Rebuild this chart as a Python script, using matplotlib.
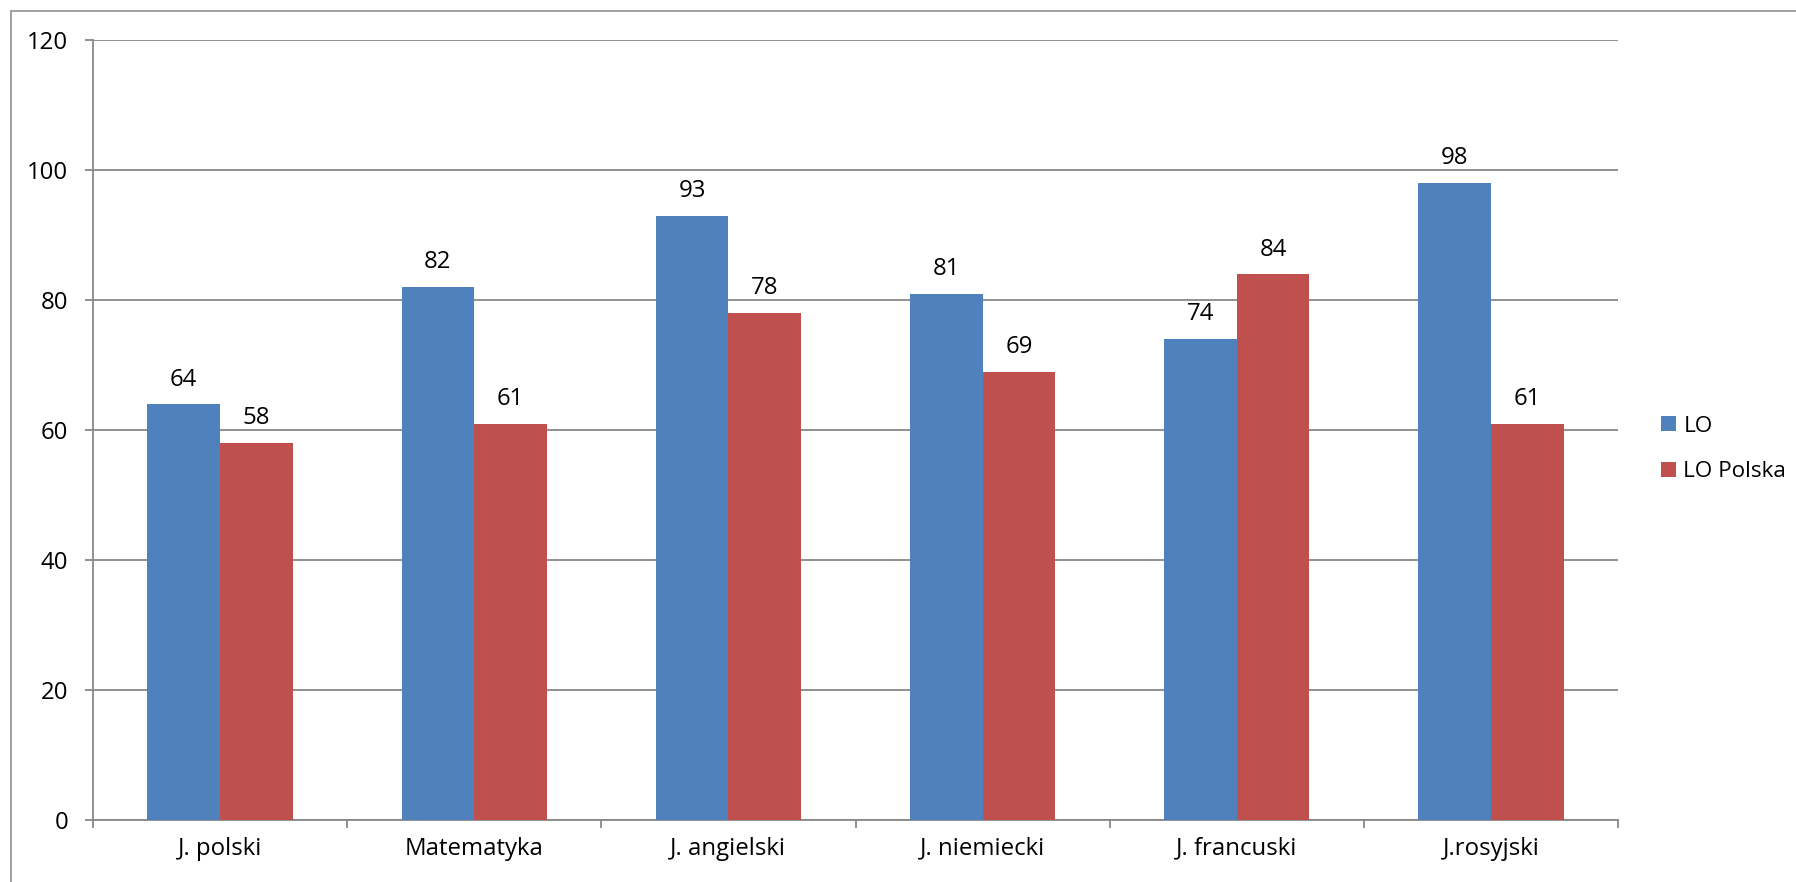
import matplotlib
matplotlib.use("Agg")
import matplotlib.pyplot as plt
from matplotlib.lines import Line2D
import numpy as np

categories = ["J. polski", "Matematyka", "J. angielski", "J. niemiecki", "J. francuski", "J.rosyjski"]
series_names = ["LO", "LO Polska"]
lo_values = [64, 82, 93, 81, 74, 98]
lo_polska_values = [58, 61, 78, 69, 84, 61]
y_ticks = [0, 20, 40, 60, 80, 100, 120]

plt.rcParams["font.family"] = ["Open Sans", "DejaVu Sans"]

W, H = 1796, 882
fig = plt.figure(figsize=(W / 100, H / 100), dpi=100)
fig.patch.set_facecolor("white")

left, right, top, bottom = 93, 1618, 40, 820
ax = fig.add_axes([left / W, (H - bottom) / H, (right - left) / W, (bottom - top) / H])

grid_c = "#888888"
blue = "#4F81BD"
red = "#C0504D"
fs = 17.3
lfs = 16.2

x = np.arange(len(categories))
bw = 1 / 3.5
b1 = ax.bar(x - bw / 2, lo_values, bw, color=blue, label=series_names[0], zorder=3)
b2 = ax.bar(x + bw / 2, lo_polska_values, bw, color=red, label=series_names[1], zorder=3)

ax.bar_label(b1, padding=9, fontsize=fs, color="black")
ax.bar_label(b2, padding=9, fontsize=fs, color="black")

ax.set_xlim(-0.5, len(categories) - 0.5)
ax.set_ylim(0, 120)
ax.set_yticks(y_ticks)
ax.set_yticklabels([str(v) for v in y_ticks], fontsize=fs)
ax.yaxis.grid(True, color=grid_c, linewidth=1.3, zorder=0)
ax.set_axisbelow(True)

ax.set_xticks(np.arange(-0.5, len(categories), 1.0))
ax.set_xticklabels([])
ax.set_xticks(x, minor=True)
ax.set_xticklabels(categories, minor=True, fontsize=fs)
ax.tick_params(axis="x", which="major", direction="out", length=6, width=1.3, color=grid_c)
ax.tick_params(axis="x", which="minor", length=0, pad=12)
ax.tick_params(axis="y", direction="out", length=6, width=1.3, color=grid_c, pad=12)

for s in ["top", "right"]:
    ax.spines[s].set_visible(False)
for s in ["left", "bottom"]:
    ax.spines[s].set_color(grid_c)
    ax.spines[s].set_linewidth(1.3)

handles = [b1, b2]
fig.legend(handles, series_names, loc="center left",
           bbox_to_anchor=(1661 / W, 1 - 449 / H), frameon=False,
           fontsize=lfs, handlelength=0.66, handleheight=0.62,
           handletextpad=0.33, labelspacing=1.1, borderaxespad=0, borderpad=0)

# outer chart-area border (left and top visible)
fig.add_artist(Line2D([11 / W, 11 / W], [0, 1 - 11 / H], transform=fig.transFigure,
                      color="#a0a0a0", linewidth=1.4))
fig.add_artist(Line2D([11 / W, 1], [1 - 11 / H, 1 - 11 / H], transform=fig.transFigure,
                      color="#a0a0a0", linewidth=1.4))

fig.savefig("out.png", dpi=100, facecolor="white")
